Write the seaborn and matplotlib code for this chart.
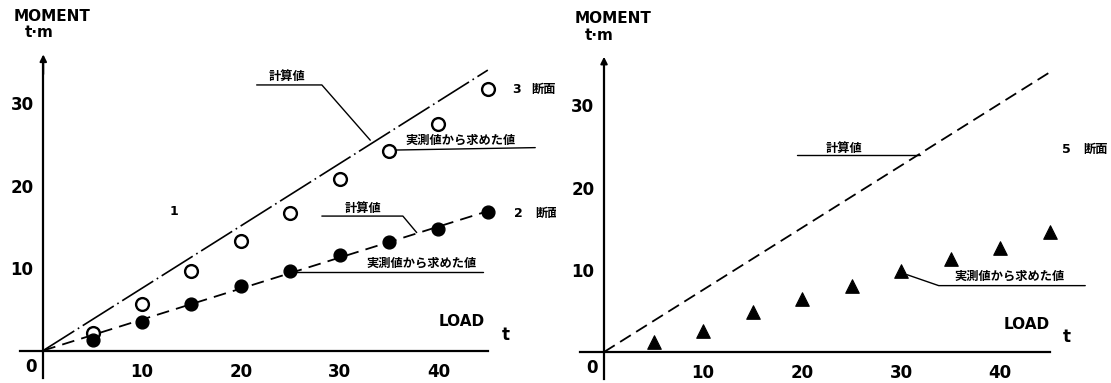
import matplotlib
matplotlib.use("Agg")
import matplotlib.pyplot as plt
import seaborn as sns

# ---------------- data ----------------
loads = [5, 10, 15, 20, 25, 30, 35, 40, 45]
sec3_measured = [2.1, 5.6, 9.6, 13.3, 16.7, 20.8, 24.2, 27.5, 31.7]
sec2_measured = [1.3, 3.5, 5.6, 7.8, 9.6, 11.6, 13.1, 14.7, 16.8]
sec5_measured = [1.2, 2.6, 4.9, 6.4, 8.0, 9.9, 11.35, 12.6, 14.6]
calc_load = [0, 45]
sec3_calc = [0, 34.0]
sec2_calc = [0, 16.9]
sec5_calc = [0, 34.0]
x_ticks = [5, 10, 15, 20, 25, 30, 35, 40, 45]
x_tick_labels = ["", "10", "", "20", "", "30", "", "40", ""]
y_ticks = [10, 20, 30]
y_tick_labels = ["10", "20", "30"]

# ---------------- style ----------------
sns.set_theme(style="white")
plt.rcParams["font.family"] = ["DejaVu Sans", "Noto Sans CJK JP"]
plt.rcParams["text.color"] = "black"
plt.rcParams["axes.labelcolor"] = "black"
plt.rcParams["xtick.color"] = "black"
plt.rcParams["ytick.color"] = "black"
JP = ["Noto Sans CJK JP", "DejaVu Sans"]
HEAD = ["DejaVu Sans"]

W, H = 1111, 383
fig = plt.figure(figsize=(W / 100, H / 100), dpi=100)
fig.patch.set_facecolor("white")

axL = fig.add_axes([0, 0, 555 / W, 1])
axR = fig.add_axes([556 / W, 0, 555 / W, 1])
axL.set_xlim(-4.38, 51.8)
axL.set_ylim(-3.94, 42.5)
axR.set_xlim(-4.85, 51.2)
axR.set_ylim(-3.77, 42.8)


def frame(ax):
    ax.set_facecolor("white")
    for s in ["top", "right"]:
        ax.spines[s].set_visible(False)
    for s in ["left", "bottom"]:
        ax.spines[s].set_position(("data", 0))
        ax.spines[s].set_color("black")
        ax.spines[s].set_linewidth(1.6)
    ax.spines["bottom"].set_bounds(-2.4, 45)
    ax.spines["left"].set_bounds(-3.3, 35.0)
    ax.set_xticks(x_ticks)
    ax.set_xticklabels(x_tick_labels)
    ax.set_yticks(y_ticks)
    ax.set_yticklabels(y_tick_labels)
    ax.tick_params(axis="both", direction="inout", length=8, width=1.3,
                   colors="black", labelcolor="black", labelsize=12)
    ax.tick_params(axis="x", pad=5)
    ax.tick_params(axis="y", pad=3)
    for lab in ax.get_xticklabels() + ax.get_yticklabels():
        lab.set_fontweight("bold")
        lab.set_color("black")
    # arrow head on the moment axis
    ax.annotate("", xy=(0, 35.9), xytext=(0, 33.5),
                arrowprops=dict(arrowstyle="-|>", color="black", lw=1.4,
                                mutation_scale=10, shrinkA=0, shrinkB=0))
    ax.text(-1.25, -2.0, "0", ha="center", va="center", fontsize=12,
            fontweight="bold", color="black")
    ax.text(0.9, 40.5, "MOMENT", ha="center", va="center", fontsize=11,
            fontweight="bold", family=HEAD, color="black")
    ax.text(-0.45, 38.5, "t·m", ha="center", va="center", fontsize=11,
            fontweight="bold", family=HEAD, color="black")
    ax.set_xlabel("")
    ax.set_ylabel("")


frame(axL)
frame(axR)

# ---------------- left panel ----------------
sns.lineplot(x=calc_load, y=sec3_calc, ax=axL, color="black", linewidth=1.2)
axL.lines[-1].set_linestyle((0, (22, 2.5, 1, 2.5)))
sns.lineplot(x=calc_load, y=sec2_calc, ax=axL, color="black", linewidth=1.3)
axL.lines[-1].set_linestyle((0, (7, 4)))

sns.scatterplot(x=loads, y=sec3_measured, ax=axL, marker="o", s=85,
                facecolor="white", edgecolor="black", linewidth=1.7, zorder=5)
sns.scatterplot(x=loads, y=sec2_measured, ax=axL, marker="o", s=85,
                color="black", edgecolor="black", linewidth=1.0, zorder=5)

lead_kw = dict(color="black", linewidth=1.0)
# callout leaders
axL.plot([21.6, 28.2, 33.1], [32.2, 32.2, 25.5], **lead_kw)
axL.plot([35.3, 49.8], [24.3, 24.6], **lead_kw)
axL.plot([28.2, 36.4, 37.8], [16.3, 16.3, 14.3], **lead_kw)
axL.plot([25.5, 44.5], [9.55, 9.55], **lead_kw)

jp_kw = dict(ha="center", va="center", fontsize=8.8, fontweight="bold",
             family=JP, color="black")
num_kw = dict(ha="center", va="center", fontsize=9, fontweight="bold",
              color="black")
axL.text(24.7, 33.2, "計算値", **jp_kw)
axL.text(42.2, 25.5, "実測値から求めた値", **jp_kw)
axL.text(32.4, 17.2, "計算値", **jp_kw)
axL.text(38.3, 10.6, "実測値から求めた値", **jp_kw)
axL.text(47.9, 31.6, "3", **num_kw)
axL.text(50.6, 31.6, "断面", **jp_kw)
axL.text(48.1, 16.6, "2", **num_kw)
axL.text(51.0, 16.6, "断面", **jp_kw)
axL.text(13.2, 16.8, "1", **num_kw)
axL.text(42.4, 3.5, "LOAD", ha="center", va="center", fontsize=11,
         fontweight="bold", family=HEAD, color="black")
axL.text(46.8, 1.9, "t", ha="center", va="center", fontsize=12,
         fontweight="bold", family=HEAD, color="black")

# ---------------- right panel ----------------
sns.lineplot(x=calc_load, y=sec5_calc, ax=axR, color="black", linewidth=1.3)
axR.lines[-1].set_linestyle((0, (7, 3.5)))
sns.scatterplot(x=loads, y=sec5_measured, ax=axR, marker="^", s=95,
                color="black", edgecolor="black", linewidth=0.8, zorder=5)

axR.plot([19.5, 31.9], [24.0, 24.0], **lead_kw)
axR.plot([30.6, 33.8, 48.6], [9.4, 8.07, 8.07], **lead_kw)
axR.text(24.2, 24.8, "計算値", **jp_kw)
axR.text(41.0, 9.2, "実測値から求めた値", **jp_kw)
axR.text(46.7, 24.6, "5", **num_kw)
axR.text(49.6, 24.6, "断面", **jp_kw)
axR.text(42.7, 3.4, "LOAD", ha="center", va="center", fontsize=11,
         fontweight="bold", family=HEAD, color="black")
axR.text(46.7, 1.8, "t", ha="center", va="center", fontsize=12,
         fontweight="bold", family=HEAD, color="black")

fig.savefig("out.png", dpi=100, facecolor="white")
